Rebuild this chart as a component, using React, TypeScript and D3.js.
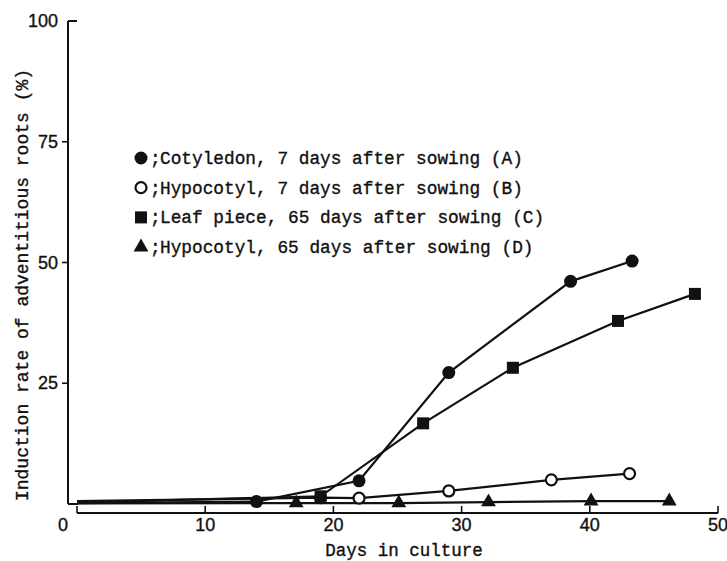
import React from "react";
import * as d3 from "d3";

// days in culture / induction rate (%)
const cotyledon7 = [[0, 0.2], [14, 0.5], [22, 4.8], [29, 27.2], [38.5, 46.1], [43.3, 50.3]];
const hypocotyl7 = [[0, 0.6], [19, 1.3], [22, 1.2], [29, 2.7], [37, 5.0], [43.1, 6.3]];
const leaf65 = [[0, 0.3], [19, 1.6], [27, 16.7], [34, 28.2], [42.2, 37.9], [48.2, 43.5]];
const hypocotyl65 = [[0, 0.1], [17.1, 0.2], [25.1, 0.2], [32.1, 0.4], [40.1, 0.6], [46.2, 0.6]];

const xTicks = [0, 10, 20, 30, 40, 50];
const yTicks = [25, 50, 75, 100];

const legendLabels = [
  "Cotyledon, 7 days after sowing (A)",
  "Hypocotyl, 7 days after sowing (B)",
  "Leaf piece, 65 days after sowing (C)",
  "Hypocotyl, 65 days after sowing (D)",
];

const mono = "'Liberation Mono', 'DejaVu Sans Mono', monospace";
const narrow = "'Liberation Sans Narrow', 'Liberation Sans', Arial, sans-serif";

function Marker({ kind, x, y }: { kind: string; x: number; y: number }) {
  if (kind === "dot") return <circle cx={x} cy={y} r={6.5} fill="#111" />;
  if (kind === "ring") return <circle cx={x} cy={y} r={5.5} fill="#fff" stroke="#111" strokeWidth={2.2} />;
  if (kind === "square") return <rect x={x - 6} y={y - 6} width={12} height={12} fill="#111" />;
  const s = d3.symbol(d3.symbolTriangle, 95)();
  return <path d={s || ""} transform={`translate(${x},${y})`} fill="#111" />;
}

export default function App() {
  const x = d3.scaleLinear().domain([0, 50]).range([77, 718]);
  const y = d3.scaleLinear().domain([0, 100]).range([504, 21]);
  const line = d3
    .line<number[]>()
    .x((d) => x(d[0]))
    .y((d) => y(d[1]));

  const series = [
    { data: cotyledon7, kind: "dot" },
    { data: hypocotyl7, kind: "ring" },
    { data: leaf65, kind: "square" },
    { data: hypocotyl65, kind: "triangle" },
  ];
  const axisY = 513;
  const yAxisX = 68;
  const txt = { fill: "#111", stroke: "#111", strokeWidth: 0.35 };

  return (
    <div style={{ position: "absolute", left: 0, top: 0 }}>
      <svg width={727} height={561} style={{ display: "block", background: "#fff" }}>
        {/* y axis */}
        <line x1={yAxisX} x2={yAxisX} y1={y(100)} y2={y(0)} stroke="#111" strokeWidth={2} />
        <line x1={yAxisX} x2={yAxisX + 9} y1={y(100)} y2={y(100)} stroke="#111" strokeWidth={2} />
        <line x1={yAxisX} x2={yAxisX + 10} y1={y(0)} y2={y(0)} stroke="#111" strokeWidth={2} />
        {yTicks.slice(0, 3).map((t) => (
          <line key={t} x1={yAxisX - 6} x2={yAxisX} y1={y(t)} y2={y(t)} stroke="#111" strokeWidth={1.6} />
        ))}
        {yTicks.map((t) => (
          <text key={t} x={58} y={y(t) + 6} textAnchor="end" fontFamily={narrow} fontSize={18} {...txt}>
            {t}
          </text>
        ))}
        <text x={x(0) - 14} y={531} textAnchor="middle" fontFamily={narrow} fontSize={18} {...txt}>
          0
        </text>

        {/* x axis */}
        <line x1={x(0)} x2={x(50)} y1={axisY} y2={axisY} stroke="#111" strokeWidth={1.8} />
        {xTicks.map((t) => (
          <line key={t} x1={x(t)} x2={x(t)} y1={axisY - 7} y2={axisY} stroke="#111" strokeWidth={1.6} />
        ))}
        {xTicks.slice(1).map((t) => (
          <text key={t} x={x(t)} y={531} textAnchor="middle" fontFamily={narrow} fontSize={18} {...txt}>
            {t}
          </text>
        ))}

        {/* axis titles */}
        <text x={404} y={556} textAnchor="middle" fontFamily={mono} fontSize={17.5} {...txt}>
          Days in culture
        </text>
        <text
          transform="translate(28,285) rotate(-90)"
          textAnchor="middle"
          fontFamily={mono}
          fontSize={18}
          {...txt}
        >
          Induction rate of adventitious roots (%)
        </text>

        {/* lines */}
        {series.map((s, i) => (
          <path key={i} d={line(s.data) || ""} fill="none" stroke="#111" strokeWidth={2.2} />
        ))}
        {series.map((s, i) =>
          s.data.slice(1).map((d, j) => <Marker key={`${i}-${j}`} kind={s.kind} x={x(d[0])} y={y(d[1])} />)
        )}

        {/* legend */}
        {series.map((s, i) => {
          const ly = 158 + i * 29.7;
          return (
            <g key={i}>
              <Marker kind={s.kind} x={141} y={ly} />
              <text x={150} y={ly + 6} fontFamily={mono} fontSize={17.8} {...txt}>
                ;
              </text>
              <text x={160} y={ly + 6} fontFamily={mono} fontSize={17.8} {...txt}>
                {legendLabels[i]}
              </text>
            </g>
          );
        })}
      </svg>
    </div>
  );
}
